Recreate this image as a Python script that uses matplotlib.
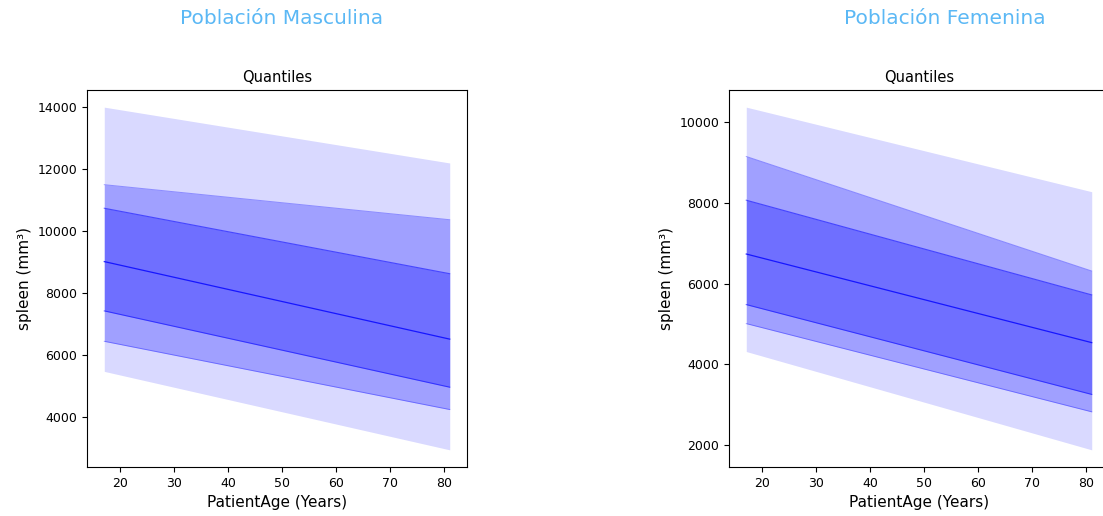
import matplotlib.pyplot as plt

# ages at the two ends of the quantile bands
age = [17, 81]

# male quantiles (mm3)
m_q05 = [5480, 2950]
m_q10 = [6450, 4250]
m_q25 = [7430, 4970]
m_q50 = [9020, 6520]
m_q75 = [10740, 8630]
m_q90 = [11500, 10370]
m_q95 = [14000, 12200]

# female quantiles (mm3)
f_q05 = [4320, 1890]
f_q10 = [5010, 2830]
f_q25 = [5480, 3260]
f_q50 = [6730, 4540]
f_q75 = [8060, 5720]
f_q90 = [9140, 6310]
f_q95 = [10360, 8270]

yticks_m = [4000, 6000, 8000, 10000, 12000, 14000]
yticks_f = [2000, 4000, 6000, 8000, 10000]

W, H = 1103, 516
fig = plt.figure(figsize=(W / 100, H / 100), dpi=100)

ax1 = fig.add_axes([87 / W, 1 - 467 / H, 380 / W, 377 / H])
ax2 = fig.add_axes([729 / W, 1 - 467 / H, 380 / W, 377 / H])


def draw(ax, q05, q10, q25, q50, q75, q90, q95, yticks):
    ax.fill_between(age, q05, q95, color='blue', alpha=0.15, lw=0)
    ax.fill_between(age, q10, q90, color='blue', alpha=0.26, lw=0)
    ax.fill_between(age, q25, q75, color='blue', alpha=0.30, lw=0)
    for q in (q10, q90):
        ax.plot(age, q, color='blue', lw=0.7, alpha=0.35)
    for q in (q25, q75):
        ax.plot(age, q, color='blue', lw=0.8, alpha=0.55)
    ax.plot(age, q50, color='blue', lw=0.9, alpha=0.8)
    ax.set_yticks(yticks)
    ax.set_xticks([20, 30, 40, 50, 60, 70, 80])
    ax.tick_params(labelsize=9)
    ax.set_title('Quantiles', fontsize=10.5)
    ax.set_xlabel('PatientAge (Years)', fontsize=11)
    ax.set_ylabel('spleen (mm³)', fontsize=11)


draw(ax1, m_q05, m_q10, m_q25, m_q50, m_q75, m_q90, m_q95, yticks_m)
draw(ax2, f_q05, f_q10, f_q25, f_q50, f_q75, f_q90, f_q95, yticks_f)

fig.text(282 / W, 1 - 19 / H, 'Población Masculina', color='#5bb8f5',
         fontsize=14.5, ha='center', va='center')
fig.text(945 / W, 1 - 19 / H, 'Población Femenina', color='#5bb8f5',
         fontsize=14.5, ha='center', va='center')

fig.savefig('out.png', dpi=100)
